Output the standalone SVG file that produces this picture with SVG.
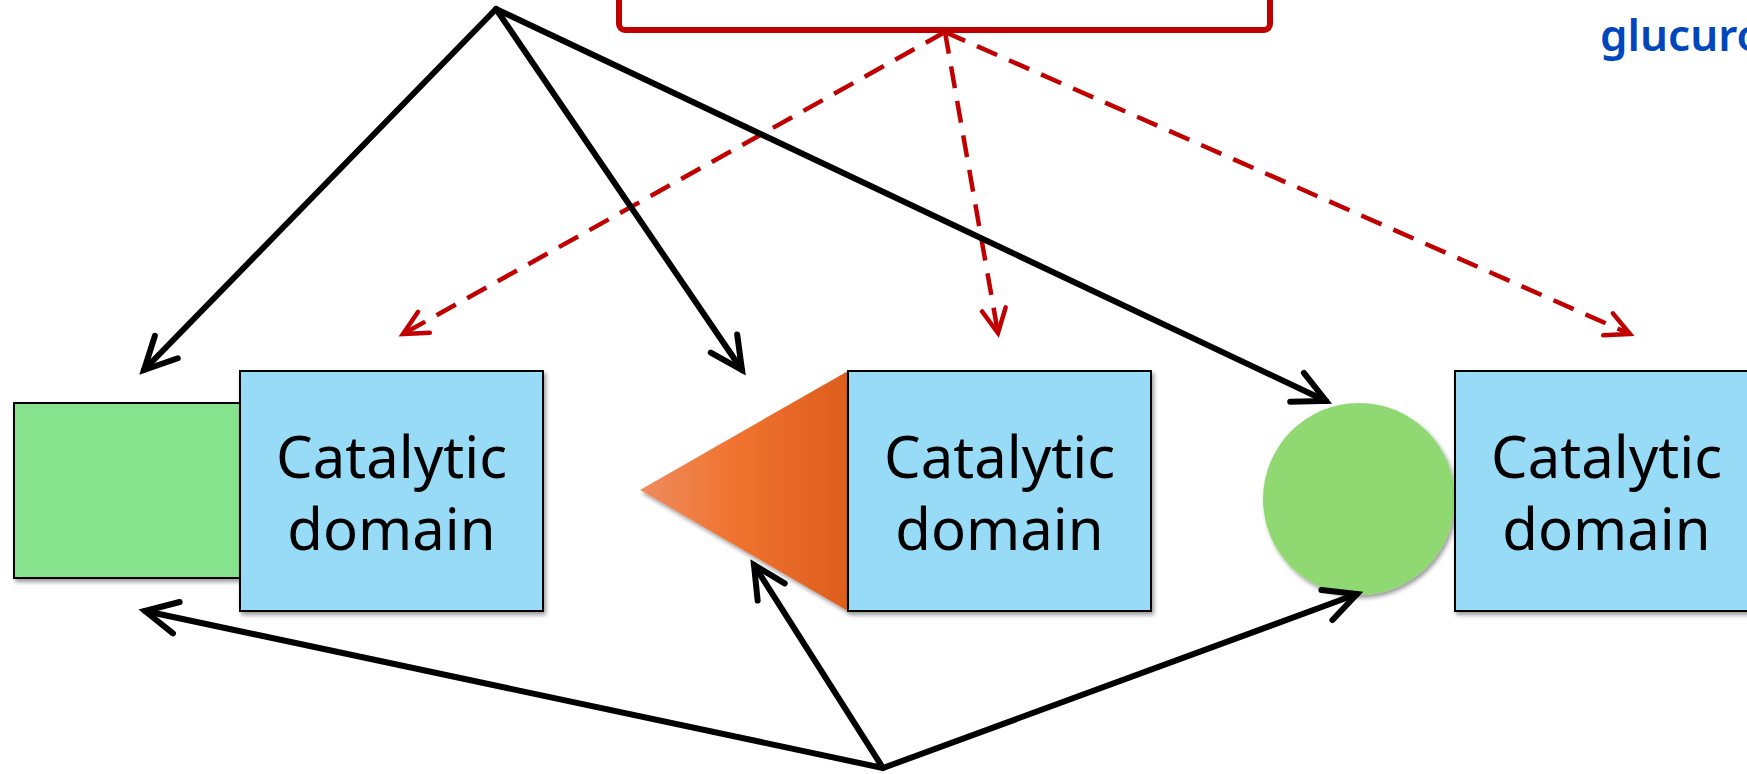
<svg xmlns="http://www.w3.org/2000/svg" width="1747" height="774" viewBox="0 0 1747 774">
<style>
.dom{fill:#97DBF7;stroke:#000;stroke-width:2;filter:url(#sh)}
.lbl{font-family:"Noto Sans","Open Sans",sans-serif;font-size:58px;fill:#000;text-anchor:middle}
.blk{fill:none;stroke:#000;stroke-width:6;stroke-linecap:round;marker-end:url(#ab)}
.red{fill:none;stroke:#C00000;stroke-width:4.5;stroke-dasharray:22 13;marker-end:url(#ar)}
</style>
<defs>
<filter id="sh" x="-10%" y="-10%" width="125%" height="125%">
<feDropShadow dx="2" dy="3" stdDeviation="2" flood-color="#000" flood-opacity="0.4"/>
</filter>
<linearGradient id="og" gradientUnits="userSpaceOnUse" x1="640" y1="0" x2="848" y2="0">
<stop offset="0" stop-color="#EE8C5E"/>
<stop offset="0.45" stop-color="#F07330"/>
<stop offset="1" stop-color="#DE5D1E"/>
</linearGradient>
<marker id="ab" markerUnits="userSpaceOnUse" viewBox="-40 -25 48 50" refX="0" refY="0" markerWidth="48" markerHeight="50" orient="auto">
<path d="M-32,-16 L0,0 L-32,16" fill="none" stroke="#000" stroke-width="6" stroke-linecap="round" stroke-linejoin="miter"/>
</marker>
<marker id="ar" markerUnits="userSpaceOnUse" viewBox="-32 -22 40 44" refX="0" refY="0" markerWidth="40" markerHeight="44" orient="auto">
<path d="M-24,-12 L0,0 L-24,12" fill="none" stroke="#C00000" stroke-width="4.5" stroke-linecap="round" stroke-linejoin="miter"/>
</marker>
</defs>
<rect width="1747" height="774" fill="#fff"/>
<g id="top-box">
<rect x="619" y="-30" width="651" height="60" rx="6" fill="#fff" stroke="#C00000" stroke-width="6"/>
</g>
<g id="glucuro-label">
<text x="1600" y="51" font-family="Noto Sans,Open Sans,sans-serif" font-size="44" font-weight="600" fill="#0047BB">glucuro</text>
</g>
<g id="node-left">
<rect x="14" y="403" width="226" height="175" fill="#87E28E" stroke="#000" stroke-width="2" filter="url(#sh)"/>
<rect class="dom" x="240" y="371" width="303" height="240"/>
<text class="lbl" x="391.5" y="478">Catalytic</text>
<text class="lbl" x="391.5" y="550">domain</text>
</g>
<g id="node-middle">
<polygon points="640,490 848,371 848,611" fill="url(#og)" filter="url(#sh)"/>
<rect class="dom" x="848" y="371" width="303" height="240"/>
<text class="lbl" x="999.5" y="478">Catalytic</text>
<text class="lbl" x="999.5" y="550">domain</text>
</g>
<g id="node-right">
<circle cx="1359" cy="499" r="96" fill="#8FD872" filter="url(#sh)"/>
<rect class="dom" x="1455" y="371" width="303" height="240"/>
<text class="lbl" x="1606.5" y="478">Catalytic</text>
<text class="lbl" x="1606.5" y="550">domain</text>
</g>
<g id="connectors">
<line class="red" x1="945" y1="32" x2="403" y2="334"/>
<line class="red" x1="945" y1="32" x2="998" y2="333"/>
<line class="red" x1="945" y1="32" x2="1630" y2="334"/>
<line class="blk" x1="496" y1="9" x2="144" y2="370"/>
<line class="blk" x1="496" y1="9" x2="742" y2="370"/>
<line class="blk" x1="496" y1="9" x2="1326" y2="401"/>
<line class="blk" x1="883" y1="768" x2="145" y2="611"/>
<line class="blk" x1="883" y1="768" x2="754" y2="565"/>
<line class="blk" x1="883" y1="768" x2="1357" y2="594"/>
</g>
</svg>
